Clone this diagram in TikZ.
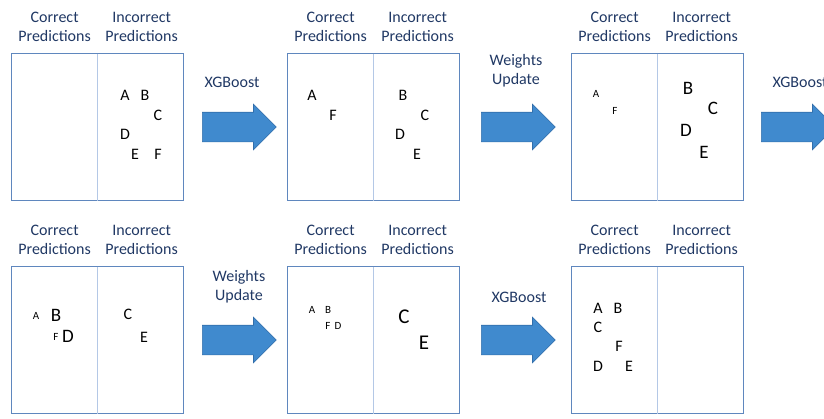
\documentclass[tikz,border=0pt]{standalone}
\usepackage{fontspec}
\setmainfont{Carlito}
\usepackage{xcolor}
\usetikzlibrary{shapes.arrows,positioning}
\definecolor{headblue}{RGB}{32,56,100}
\definecolor{frameblue}{RGB}{95,135,190}
\definecolor{splitblue}{RGB}{180,200,230}
\definecolor{arrowfill}{RGB}{64,138,206}
\definecolor{arrowedge}{RGB}{50,110,170}
\tikzset{
  panel/.style={rectangle, draw=frameblue, line width=1.2pt, minimum width=172pt,
                minimum height=147pt, inner sep=0pt, anchor=north west},
  split/.style={draw=splitblue, line width=1.5pt, shorten >=0.6pt, shorten <=0.6pt},
  heading/.style={text=headblue, align=center, font=\fontsize{16}{19}\selectfont, inner sep=1pt},
  pt/.style={font=\fontsize{16}{19}\selectfont, inner sep=0pt},
  ptsm/.style={font=\fontsize{11}{13}\selectfont, inner sep=0pt},
  ptlg/.style={font=\fontsize{19}{22}\selectfont, inner sep=0pt},
  ptxl/.style={font=\fontsize{21}{24}\selectfont, inner sep=0pt},
  boost/.style={single arrow, draw=arrowedge, fill=arrowfill, line width=0.6pt,
                minimum height=74pt, inner xsep=0pt, inner ysep=14.5pt,
                single arrow head extend=8pt, anchor=tail},
}

\begin{document}
\begin{tikzpicture}[x=1pt, y=-1pt, node distance=4pt]
  \useasboundingbox (0,0) rectangle (824,418);
  % panels
  \node[panel] (c1) at (11,53) {};
  \node[panel] (c2) at (287,53) {};
  \node[panel] (c3) at (571,53) {};
  \node[panel] (c4) at (11,266) {};
  \node[panel] (c5) at (287,266) {};
  \node[panel] (c6) at (571,266) {};
  \foreach \n in {1,...,6} {
    \draw[split] (c\n.north) -- (c\n.south);
    \node[heading, above=10pt of c\n.north, xshift=-43pt] (c\n ok) {Correct\\Predictions};
    \node[heading, above=10pt of c\n.north, xshift=44pt] (c\n bad) {Incorrect\\Predictions};
  }
  % arrows
  \node[boost] (a1) at (202,127) {};
  \node[boost] (a2) at (481,127) {};
  \node[boost] (a3) at (761,127) {};
  \node[boost] (a4) at (202,340) {};
  \node[boost] (a5) at (481,340) {};
  \node[heading] (a1t) at (232,82) {XGBoost};
  \node[heading] (a2t) at (516,71) {Weights\\Update};
  \node[heading] (a3t) at (800,82) {XGBoost};
  \node[heading] (a4t) at (239,287) {Weights\\Update};
  \node[heading] (a5t) at (519,297) {XGBoost};
  % samples
  \foreach \t/\x/\y in {A/125/95, B/145/95, C/158/115, D/125/134, E/135/154, F/158/154}
    \node[pt] (p1\t) at (\x,\y) {\t};
  \foreach \t/\x/\y in {A/312/95, F/333/115, B/403/95, C/425/115, D/400/134, E/417/154}
    \node[pt] (p2\t) at (\x,\y) {\t};
  \foreach \t/\x/\y in {A/596/94, F/615/111}
    \node[ptsm] (p3\t) at (\x,\y) {\t};
  \foreach \t/\x/\y in {B/688/88, C/713/108, D/686/130, E/704/152}
    \node[ptlg] (p3\t) at (\x,\y) {\t};
  \foreach \t/\x/\y in {A/36/316, F/56/337}
    \node[ptsm] (p4\t) at (\x,\y) {\t};
  \foreach \t/\x/\y in {B/56/315, D/68/336}
    \node[ptlg] (p4\t) at (\x,\y) {\t};
  \foreach \t/\x/\y in {C/128/314, E/144/337}
    \node[pt] (p4\t) at (\x,\y) {\t};
  \foreach \t/\x/\y in {A/312/310, B/328/310, F/328/326, D/338/326}
    \node[ptsm] (p5\t) at (\x,\y) {\t};
  \foreach \t/\x/\y in {C/404/317, E/424/343}
    \node[ptxl] (p5\t) at (\x,\y) {\t};
  \foreach \t/\x/\y in {A/598/308, B/618/308, C/598/327, F/619/346, D/598/366, E/629/366}
    \node[pt] (p6\t) at (\x,\y) {\t};
\end{tikzpicture}
\end{document}
